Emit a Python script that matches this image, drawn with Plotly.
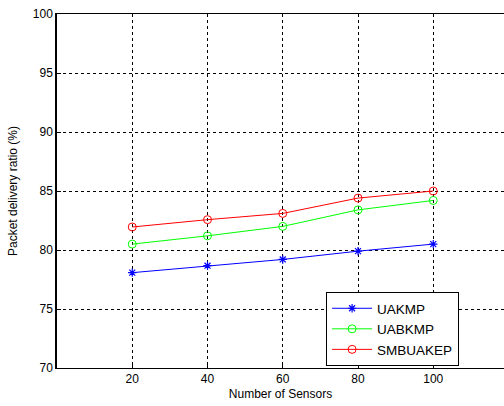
import plotly.graph_objects as go

sensors = [20, 40, 60, 80, 100]
uakmp = [78.08, 78.67, 79.2, 79.9, 80.5]
uabkmp = [80.5, 81.2, 82.0, 83.4, 84.2]
smbuakep = [81.95, 82.57, 83.1, 84.4, 85.0]
x_ticks = [20, 40, 60, 80, 100]
y_ticks = [70, 75, 80, 85, 90, 95, 100]

fig = go.Figure()
fig.add_trace(go.Scatter(x=sensors, y=uakmp, name="UAKMP", mode="lines+markers",
                         line=dict(color="#0000ff", width=1),
                         marker=dict(symbol="asterisk-open", size=7, color="#0000ff",
                                     line=dict(color="#0000ff", width=1.2))))
fig.add_trace(go.Scatter(x=sensors, y=uabkmp, name="UABKMP", mode="lines+markers",
                         line=dict(color="#00ff00", width=1),
                         marker=dict(symbol="circle-open", size=8, color="#00ff00",
                                     line=dict(width=1))))
fig.add_trace(go.Scatter(x=sensors, y=smbuakep, name="SMBUAKEP", mode="lines+markers",
                         line=dict(color="#ff0000", width=1),
                         marker=dict(symbol="circle-open", size=8, color="#ff0000",
                                     line=dict(width=1))))

axis_font = dict(family="Liberation Sans, Arial, sans-serif", size=12, color="black")
fig.update_layout(
    width=504, height=406,
    margin=dict(l=57, r=0, t=14, b=38),
    paper_bgcolor="white", plot_bgcolor="white",
    font=axis_font,
    showlegend=True,
    legend=dict(x=0.602, y=0.2147, xanchor="left", yanchor="top",
                bordercolor="black", borderwidth=1, bgcolor="white",
                font=dict(family="Liberation Sans, Arial, sans-serif", size=13.5, color="black"),
                tracegroupgap=0, itemwidth=40),
    xaxis=dict(range=[0, 118.8], tickvals=x_ticks, ticks="inside", ticklen=4,
               tickcolor="black", showline=True, linecolor="black", linewidth=1,
               mirror=True, showgrid=True, gridcolor="black", griddash="dot",
               gridwidth=1, zeroline=False, automargin=False,
               title=dict(text="Number of Sensors", standoff=4, font=axis_font)),
    yaxis=dict(range=[70, 100], tickvals=y_ticks, ticks="inside", ticklen=4,
               tickcolor="black", showline=True, linecolor="black", linewidth=1.5,
               showgrid=True, gridcolor="black", griddash="dot", gridwidth=1,
               zeroline=False, automargin=False,
               title=dict(text="Packet delivery ratio (%)", standoff=13, font=axis_font)),
)
fig.write_html("out.html", config={"displayModeBar": False},
               post_script="document.body.style.margin='0';document.body.style.overflow='hidden';")
